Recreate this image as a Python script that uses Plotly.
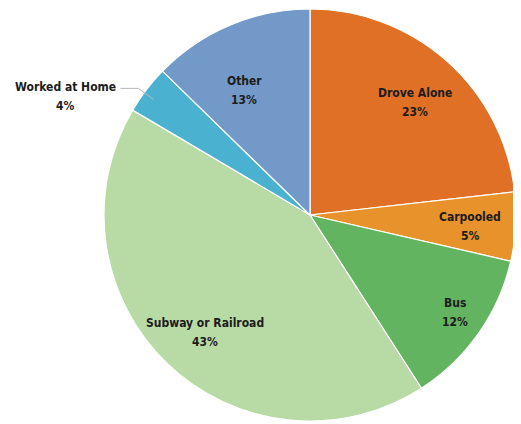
import math
import plotly.graph_objects as go

categories = ["Drove Alone", "Carpooled", "Bus", "Subway or Railroad", "Worked at Home", "Other"]
shares = [23.2, 5.4, 12.3, 42.6, 3.8, 12.7]
colors = ["#E07026", "#E8922B", "#63B461", "#B8DBA6", "#4AB2D0", "#7399C9"]
# inside-label placement: fraction of radius, and angular nudge (degrees) from the slice middle
label_radius = [0.747, 0.779, 0.85, 0.765, None, 0.684]
label_nudge = [1.2, 0.9, -1.1, -1.9, -1.0, -5.0]

FONT = "DejaVu Sans Condensed, Roboto Condensed, Liberation Sans Narrow, Roboto, sans-serif"
TXT = "#1c1c1c"
FS = 12
LINE_GAP = 19
total = sum(shares)

W, H = 521, 424
ml, mr, mt, mb = 96, 13, 1, 11
pw, ph = W - ml - mr, H - mt - mb

fig = go.Figure(go.Pie(
    labels=categories,
    values=shares,
    sort=False,
    direction="clockwise",
    rotation=0,
    marker=dict(colors=colors, line=dict(color="white", width=1.2)),
    textinfo="none",
    hoverinfo="label+percent",
    showlegend=False,
))

cx, cy, R = ml + pw / 2, mt + ph / 2, min(pw, ph) / 2


def to_paper(x, y):
    return (x - ml) / pw, 1 - (y - mt) / ph


def polar(deg, rf):
    a = math.radians(deg)
    return cx + rf * R * math.sin(a), cy - rf * R * math.cos(a)


def two_lines(x, y, l1, l2, xanchor="center"):
    for txt, dy in ((l1, -LINE_GAP / 2), (l2, LINE_GAP / 2)):
        px, py = to_paper(x, y + dy)
        fig.add_annotation(xref="paper", yref="paper", x=px, y=py, xanchor=xanchor, yanchor="middle",
                           text=f"<b>{txt}</b>", showarrow=False,
                           font=dict(family=FONT, size=FS, color=TXT))


cum = 0
for cat, v, rf, nd in zip(categories, shares, label_radius, label_nudge):
    mid_deg = (cum + v / 2) / total * 360
    cum += v
    pct = f"{round(v / total * 100)}%"
    if rf is not None:
        x, y = polar(mid_deg + nd, rf)
        two_lines(x, y, cat, pct)
    else:
        tx, ty = polar(mid_deg + nd, 0.945)
        ex, ey = tx - 15, ty - 11
        hx = ex - 18
        p0, p1, p2 = to_paper(tx, ty), to_paper(ex, ey), to_paper(hx, ey)
        fig.add_shape(type="path", xref="paper", yref="paper",
                      path=f"M {p0[0]},{p0[1]} L {p1[0]},{p1[1]} L {p2[0]},{p2[1]}",
                      line=dict(color="#b8b8b8", width=1))
        # label block centred left of the leader line
        two_lines(hx - 55, ey - 1 + LINE_GAP / 2, cat, pct)

fig.update_layout(width=W, height=H, margin=dict(l=ml, r=mr, t=mt, b=mb),
                  paper_bgcolor="white", plot_bgcolor="white")
fig.write_html("out.html")
